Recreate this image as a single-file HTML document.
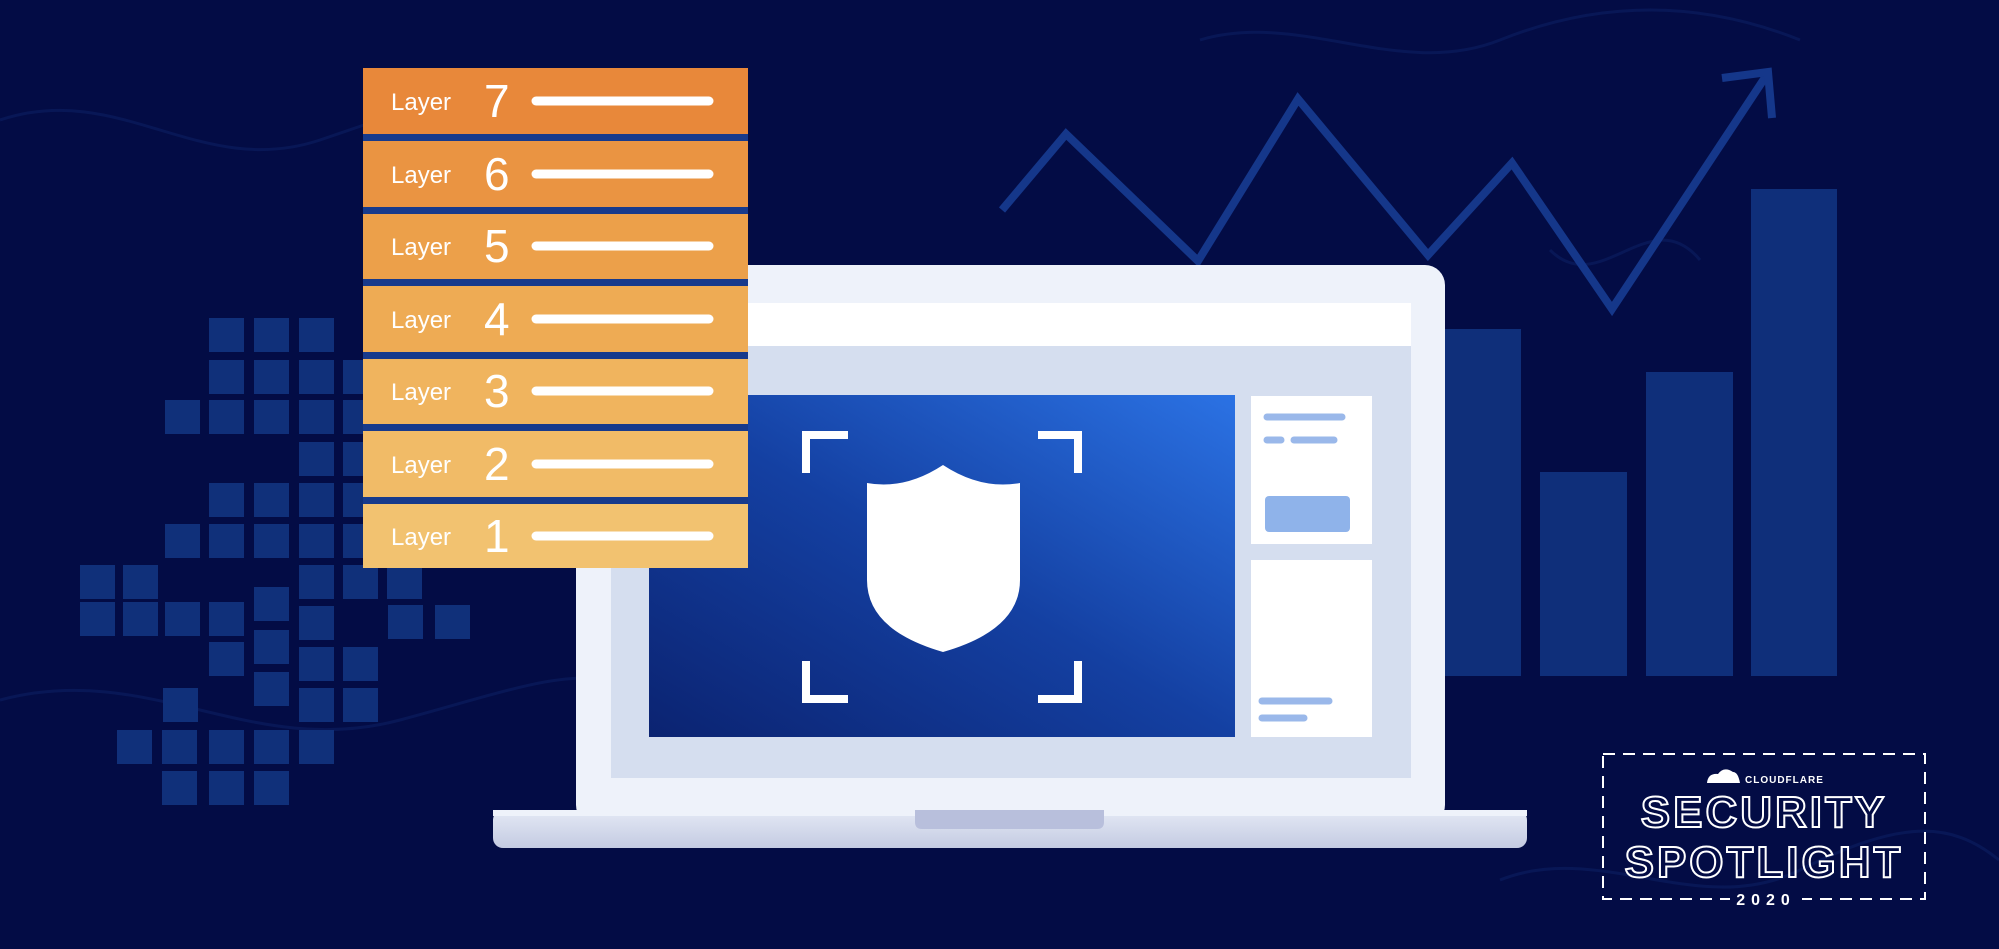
<!DOCTYPE html>
<html><head><meta charset="utf-8"><style>
html,body{margin:0;padding:0;background:#030c45;}
svg{display:block}
text{font-family:"Liberation Sans",sans-serif;}
</style></head><body>
<svg width="1999" height="949" viewBox="0 0 1999 949" xmlns="http://www.w3.org/2000/svg">
<defs>
<linearGradient id="lay" x1="0" y1="0" x2="0.3" y2="1">
<stop offset="0" stop-color="#e8883a"/><stop offset="1" stop-color="#f3c475"/></linearGradient>
<linearGradient id="scr" x1="0" y1="1" x2="1" y2="0">
<stop offset="0" stop-color="#0b2371"/><stop offset="0.5" stop-color="#1440a2"/><stop offset="1" stop-color="#2b72e4"/></linearGradient>
<linearGradient id="base" x1="0" y1="0" x2="0" y2="1">
<stop offset="0" stop-color="#e4e9f5"/><stop offset="1" stop-color="#c4cbe2"/></linearGradient>
</defs>
<rect width="1999" height="949" fill="#030c45"/>
<g fill="none" stroke="#0a1a5a" stroke-width="3" opacity="0.8">
<path d="M0 120 C120 80 200 180 320 140 S520 60 640 120"/>
<path d="M0 700 C150 660 250 760 400 720 S600 650 700 720"/>
<path d="M1500 880 C1600 840 1700 920 1800 870 S1950 820 1999 860"/>
<path d="M1200 40 C1300 10 1400 80 1500 40 S1700 0 1800 40"/>
<path d="M1550 250 C1600 300 1650 200 1700 260"/>
</g>
<!-- squares -->
<g fill="#10307a">
<rect x="209" y="318" width="35" height="34"/><rect x="254" y="318" width="35" height="34"/><rect x="299" y="318" width="35" height="34"/>
<rect x="209" y="360" width="35" height="34"/><rect x="254" y="360" width="35" height="34"/><rect x="299" y="360" width="35" height="34"/><rect x="343" y="360" width="35" height="34"/>
<rect x="165" y="400" width="35" height="34"/><rect x="209" y="400" width="35" height="34"/><rect x="254" y="400" width="35" height="34"/><rect x="299" y="400" width="35" height="34"/><rect x="343" y="400" width="35" height="34"/>
<rect x="299" y="442" width="35" height="34"/><rect x="343" y="442" width="35" height="34"/>
<rect x="209" y="483" width="35" height="34"/><rect x="254" y="483" width="35" height="34"/><rect x="299" y="483" width="35" height="34"/><rect x="343" y="483" width="35" height="34"/>
<rect x="165" y="524" width="35" height="34"/><rect x="209" y="524" width="35" height="34"/><rect x="254" y="524" width="35" height="34"/><rect x="299" y="524" width="35" height="34"/><rect x="343" y="524" width="35" height="34"/>
<rect x="80" y="565" width="35" height="34"/><rect x="123" y="565" width="35" height="34"/><rect x="299" y="565" width="35" height="34"/><rect x="343" y="565" width="35" height="34"/><rect x="387" y="565" width="35" height="34"/>
<rect x="80" y="602" width="35" height="34"/><rect x="123" y="602" width="35" height="34"/><rect x="165" y="602" width="35" height="34"/><rect x="209" y="602" width="35" height="34"/><rect x="254" y="587" width="35" height="34"/><rect x="299" y="606" width="35" height="34"/><rect x="388" y="605" width="35" height="34"/><rect x="435" y="605" width="35" height="34"/>
<rect x="209" y="642" width="35" height="34"/><rect x="254" y="630" width="35" height="34"/><rect x="299" y="647" width="35" height="34"/><rect x="343" y="647" width="35" height="34"/>
<rect x="163" y="688" width="35" height="34"/><rect x="254" y="672" width="35" height="34"/><rect x="299" y="688" width="35" height="34"/><rect x="343" y="688" width="35" height="34"/>
<rect x="117" y="730" width="35" height="34"/><rect x="162" y="730" width="35" height="34"/><rect x="209" y="730" width="35" height="34"/><rect x="254" y="730" width="35" height="34"/><rect x="299" y="730" width="35" height="34"/>
<rect x="162" y="771" width="35" height="34"/><rect x="209" y="771" width="35" height="34"/><rect x="254" y="771" width="35" height="34"/>
</g>
<!-- bars -->
<g fill="#0f2f7a">
<rect x="1445" y="329" width="76" height="347"/>
<rect x="1540" y="472" width="87" height="204"/>
<rect x="1646" y="372" width="87" height="304"/>
<rect x="1751" y="189" width="86" height="487"/>
</g>
<polyline points="1002,210 1066,134 1198,261 1298,99 1428,255 1512,163 1612,309 1766,76" fill="none" stroke="#15378a" stroke-width="8" stroke-linejoin="miter"/>
<polyline points="1722,78 1768,72 1772,118" fill="none" stroke="#15378a" stroke-width="8"/>
<!-- laptop -->
<rect x="576" y="265" width="869" height="560" rx="20" fill="#eef2fa"/>
<rect x="611" y="303" width="800" height="475" fill="#d5deef"/>
<rect x="611" y="303" width="800" height="43" fill="#ffffff"/>
<rect x="649" y="395" width="586" height="342" fill="url(#scr)"/>
<rect x="1251" y="396" width="121" height="148" fill="#ffffff"/>
<rect x="1251" y="560" width="121" height="177" fill="#ffffff"/>
<g stroke="#9ab8ea" stroke-width="7" stroke-linecap="round">
<line x1="1267" y1="417" x2="1342" y2="417"/>
<line x1="1267" y1="440" x2="1281" y2="440"/><line x1="1294" y1="440" x2="1334" y2="440"/>
<line x1="1262" y1="701" x2="1329" y2="701"/><line x1="1262" y1="718" x2="1304" y2="718"/>
</g>
<rect x="1265" y="496" width="85" height="36" rx="4" fill="#8fb3ea"/>
<rect x="493" y="810" width="1034" height="38" rx="10" fill="url(#base)"/>
<rect x="493" y="810" width="1034" height="6" fill="#eef2fa"/>
<path d="M915 810 H1104 V822 Q1104 829 1097 829 H922 Q915 829 915 822 Z" fill="#b8bfdc"/>
<!-- brackets -->
<g fill="none" stroke="#ffffff" stroke-width="8">
<polyline points="806,473 806,435 848,435"/>
<polyline points="1038,435 1078,435 1078,473"/>
<polyline points="806,661 806,699 848,699"/>
<polyline points="1038,699 1078,699 1078,661"/>
</g>
<path d="M867 483 Q905 490 943 465 Q981 490 1020 483 L1020 580 Q1020 630 943 652 Q867 630 867 580 Z" fill="#ffffff"/>
<!-- layers -->
<rect x="363" y="68" width="385" height="500" fill="#173a8c"/>
<g>
<rect x="363" y="68" width="385" height="66" fill="#e8883a"/>
<rect x="363" y="141" width="385" height="66" fill="#ea9442"/>
<rect x="363" y="214" width="385" height="65" fill="#eca04a"/>
<rect x="363" y="286" width="385" height="66" fill="#eeab54"/>
<rect x="363" y="359" width="385" height="65" fill="#f0b45e"/>
<rect x="363" y="431" width="385" height="66" fill="#f1bb67"/>
<rect x="363" y="504" width="385" height="64" fill="#f2c270"/>
</g>
<g fill="#ffffff">
<text x="391" y="110" font-size="24">Layer</text><text x="484" y="117" font-size="46">7</text>
<text x="391" y="183" font-size="24">Layer</text><text x="484" y="190" font-size="46">6</text>
<text x="391" y="255" font-size="24">Layer</text><text x="484" y="262" font-size="46">5</text>
<text x="391" y="328" font-size="24">Layer</text><text x="484" y="335" font-size="46">4</text>
<text x="391" y="400" font-size="24">Layer</text><text x="484" y="407" font-size="46">3</text>
<text x="391" y="473" font-size="24">Layer</text><text x="484" y="480" font-size="46">2</text>
<text x="391" y="545" font-size="24">Layer</text><text x="484" y="552" font-size="46">1</text>
</g>
<g stroke="#ffffff" stroke-width="9" stroke-linecap="round">
<line x1="536" y1="101" x2="709" y2="101"/><line x1="536" y1="174" x2="709" y2="174"/>
<line x1="536" y1="246" x2="709" y2="246"/><line x1="536" y1="319" x2="709" y2="319"/>
<line x1="536" y1="391" x2="709" y2="391"/><line x1="536" y1="464" x2="709" y2="464"/>
<line x1="536" y1="536" x2="709" y2="536"/>
</g>
<!-- logo -->
<rect x="1603" y="754" width="322" height="145" fill="none" stroke="#ffffff" stroke-width="2" stroke-dasharray="12,8"/>
<rect x="1730" y="890" width="72" height="14" fill="#030c45"/>
<path d="M1707 783 Q1708 773 1718 774 Q1724 766 1733 772 Q1738 772 1740 783 Z" fill="#ffffff"/>
<text x="1745" y="783" font-size="10" font-weight="bold" fill="#ffffff" letter-spacing="1">CLOUDFLARE</text>
<text x="1764" y="827" font-size="44" font-weight="bold" fill="none" stroke="#ffffff" stroke-width="2" text-anchor="middle" letter-spacing="3">SECURITY</text>
<text x="1764" y="877" font-size="44" font-weight="bold" fill="none" stroke="#ffffff" stroke-width="2" text-anchor="middle" letter-spacing="3">SPOTLIGHT</text>
<text x="1766" y="905" font-size="16" font-weight="bold" fill="#ffffff" text-anchor="middle" letter-spacing="6">2020</text>
</svg>
</body></html>
